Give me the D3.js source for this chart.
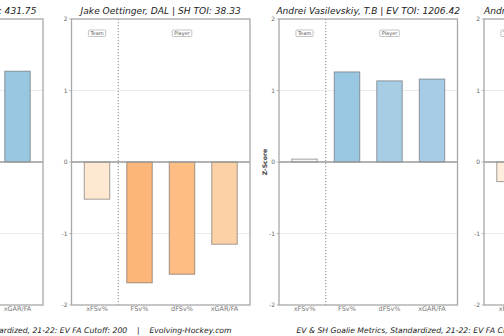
<!DOCTYPE html>
<html>
<head>
<meta charset="utf-8">
<script src="https://cdn.jsdelivr.net/npm/d3@7"></script>
<style>
  html, body { margin: 0; padding: 0; background: #fff; }
  svg { display: block; font-family: "DejaVu Sans", sans-serif; }
</style>
</head>
<body>
<div id="chart"></div>
<script>
// Set dimensions
const width = 504,
    height = 336;

// Goalie metrics, z-scores per panel (null = bar outside the view)
const metrics = ["xFSv%", "FSv%", "dFSv%", "xGAR/FA"];
const panelTitles = [
    "Jake Oettinger, DAL | EV TOI: 431.75",
    "Jake Oettinger, DAL | SH TOI: 38.33",
    "Andrei Vasilevskiy, T.B | EV TOI: 1206.42",
    "Andrei Vasilevskiy, T.B | SH TOI: 189.63",
];
const oettingerEV = [null, null, null, 1.27];
const oettingerSH = [-0.52, -1.69, -1.57, -1.15];
const vasilevskiyEV = [0.04, 1.26, 1.135, 1.16];
const vasilevskiySH = [-0.275, null, null, null];
const panelValues = [oettingerEV, oettingerSH, vasilevskiyEV, vasilevskiySH];
const yTicks = [-2, -1, 0, 1, 2];
const footerText =
    "EV & SH Goalie Metrics, Standardized, 21-22: EV FA Cutoff: 200    |    Evolving-Hockey.com";

// Panel layout (two panels per figure)
const panelLeft = [-135.5, 71.5, 279, 484];
const panelW = 178.5;
const plotTop = 19,
    plotBottom = 305;

const svg = d3
    .select("#chart")
    .append("svg")
    .attr("width", width)
    .attr("height", height);

svg.append("rect").attr("width", width).attr("height", height).attr("fill", "#fff");

const y = d3.scaleLinear().domain([-2, 2]).range([plotBottom, plotTop]);

// Fill scales: blues above zero, oranges below
const blue = d3.scaleSequential(d3.interpolateBlues).domain([0, 3.3]);
const orange = d3.scaleSequential(d3.interpolateOranges).domain([0, 4.9]);
const fillFor = (v) => (v >= 0 ? blue(v) : orange(-v));

panelValues.forEach((vals, p) => {
    const x0 = panelLeft[p];
    const x = d3.scaleLinear().domain([-0.6, 3.6]).range([x0, x0 + panelW]);
    const g = svg.append("g");

    // Light grid at +-1
    g.selectAll(".grid")
        .data([-1, 1])
        .enter()
        .append("line")
        .attr("x1", x0)
        .attr("x2", x0 + panelW)
        .attr("y1", (d) => y(d))
        .attr("y2", (d) => y(d))
        .attr("stroke", "#e6e6e6")
        .attr("stroke-width", 0.8);

    // Team / Player divider
    g.append("line")
        .attr("x1", x(0.5))
        .attr("x2", x(0.5))
        .attr("y1", plotTop)
        .attr("y2", plotBottom)
        .attr("stroke", "#777")
        .attr("stroke-width", 0.9)
        .attr("stroke-dasharray", "1.2,1.8");

    // Bars
    const data = vals
        .map((v, i) => ({ v, i }))
        .filter((d) => d.v !== null);
    g.selectAll(".bar")
        .data(data)
        .enter()
        .append("rect")
        .attr("x", (d) => x(d.i - 0.3))
        .attr("width", x(0.3) - x(-0.3))
        .attr("y", (d) => y(Math.max(0, d.v)))
        .attr("height", (d) => Math.abs(y(d.v) - y(0)))
        .attr("fill", (d) => fillFor(d.v))
        .attr("stroke", "#555")
        .attr("stroke-opacity", 0.55)
        .attr("stroke-width", 1);

    // Zero line
    g.append("line")
        .attr("x1", x0)
        .attr("x2", x0 + panelW)
        .attr("y1", y(0))
        .attr("y2", y(0))
        .attr("stroke", "#9a9a9a")
        .attr("stroke-width", 1.5);

    // Frame
    g.append("rect")
        .attr("x", x0)
        .attr("y", plotTop)
        .attr("width", panelW)
        .attr("height", plotBottom - plotTop)
        .attr("fill", "none")
        .attr("stroke", "#a8a8a8")
        .attr("stroke-width", 1.3);

    // Y ticks
    const yt = g.selectAll(".yt").data(yTicks).enter().append("g");
    yt.append("line")
        .attr("x1", x0 - 2.5)
        .attr("x2", x0)
        .attr("y1", (d) => y(d))
        .attr("y2", (d) => y(d))
        .attr("stroke", "#999")
        .attr("stroke-width", 0.6);
    yt.append("text")
        .attr("x", x0 - 4)
        .attr("y", (d) => y(d) + 2)
        .attr("text-anchor", "end")
        .attr("font-size", 6)
        .attr("fill", "#666")
        .text((d) => d);

    // X tick labels
    g.selectAll(".xt")
        .data(metrics)
        .enter()
        .append("text")
        .attr("x", (d, i) => x(i))
        .attr("y", 310.5)
        .attr("text-anchor", "middle")
        .attr("font-size", 6.5)
        .attr("fill", "#777")
        .text((d) => d);

    // Team / Player tags
    [
        { label: "Team", at: 0 },
        { label: "Player", at: 2 },
    ].forEach((t) => {
        const tg = g.append("g");
        const txt = tg
            .append("text")
            .attr("x", x(t.at))
            .attr("y", 35)
            .attr("text-anchor", "middle")
            .attr("font-size", 5)
            .attr("fill", "#555")
            .text(t.label);
        const w = txt.node().getComputedTextLength();
        tg.insert("rect", "text")
            .attr("x", x(t.at) - w / 2 - 2)
            .attr("y", 30)
            .attr("width", w + 4)
            .attr("height", 6.5)
            .attr("rx", 1)
            .attr("fill", "#fff")
            .attr("stroke", "#aaa")
            .attr("stroke-width", 0.7);
    });

    // Title
    g.append("text")
        .attr("x", x0 + panelW / 2)
        .attr("y", 14)
        .attr("text-anchor", "middle")
        .attr("font-size", 9.1)
        .attr("font-style", "italic")
        .attr("fill", "#222")
        .text(panelTitles[p]);

    // Axis label on the left panel of each figure
    if (p % 2 === 0) {
        g.append("text")
            .attr("transform", `translate(${x0 - 12},${(plotTop + plotBottom) / 2}) rotate(-90)`)
            .attr("text-anchor", "middle")
            .attr("font-size", 6.2)
            .attr("font-weight", "bold")
            .attr("fill", "#444")
            .text("Z-Score");
    }
});

// Footer, centred under each pair of panels
[0, 2].forEach((p) => {
    const cx = (panelLeft[p] + panelLeft[p + 1] + panelW) / 2;
    svg.append("text")
        .attr("x", cx)
        .attr("y", 333)
        .attr("text-anchor", "middle")
        .attr("font-size", 7.7)
        .attr("font-style", "italic")
        .attr("fill", "#222")
        .style("white-space", "pre")
        .text(footerText);
});
</script>
</body>
</html>
